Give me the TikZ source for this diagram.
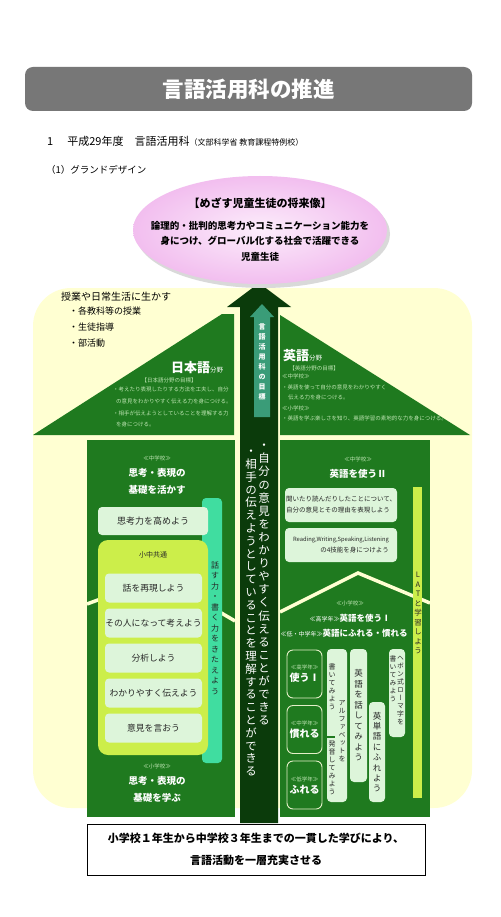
\documentclass[tikz,border=0pt]{standalone}
\usepackage{fontspec}
\setmainfont{Noto Sans CJK JP}
\newfontfamily\tatefont[RawFeature={+vert}]{Noto Sans CJK JP}
\usepackage{tikz}

\definecolor{titlegray}{HTML}{777777}
\definecolor{cream}{HTML}{FFFFD2}
\definecolor{shaft}{HTML}{0B3B0B}
\definecolor{roofgreen}{HTML}{1F7A1F}
\definecolor{panelgreen}{HTML}{1F7A1F}
\definecolor{mint}{HTML}{DDF5DA}
\definecolor{lime}{HTML}{CCEE4A}
\definecolor{aqua}{HTML}{40DDA0}
\definecolor{goalteal}{HTML}{3A9C78}
\definecolor{pinkedge}{HTML}{F2BEEF}
\definecolor{pinkmid}{HTML}{FCEDFB}
\definecolor{paletext}{HTML}{BFE6B4}
\definecolor{outline}{HTML}{E4EFC8}

\newcommand\fsz[2]{\fontsize{#1}{#2}\selectfont}
\makeatletter
\def\tate@loop#1{\ifx#1\relax\else\hbox to 1em{\hss#1\hss}\expandafter\tate@loop\fi}
\newcommand\tate[2][1.1em]{\vbox{\tatefont\baselineskip=#1\relax\lineskiplimit=-99pt\lineskip=0pt\tate@loop#2\relax}}
\makeatother

\begin{document}
\begin{tikzpicture}[x=1pt, y=-1pt,
	every node/.style={inner sep=1pt},
	mintbox/.style={fill=mint, rounded corners=4pt, inner sep=0pt, text=black!85},
	gradebox/.style={fill=panelgreen, draw=outline, line width=0.9pt, rounded corners=6pt, inner sep=0pt, minimum width=35pt, minimum height=48pt, align=center, text=white},
	smalltag/.style={text=paletext, font=\fsz{5.5}{7}},
	headline/.style={text=white, font=\bfseries\fsz{9.5}{17}, align=center},
	roofline/.style={draw=cream, line width=3.5pt},
	tatetext/.style={text=black!85, inner sep=0pt}]
	\fill[white] (0,0) rectangle (500,917);
	\useasboundingbox (0,0) rectangle (500,917);

	% title and headings
	\node[fill=titlegray, rounded corners=8pt, minimum width=447pt, minimum height=44pt] (titlebar) at (248.5,89){};
	\node[text=white, font=\bfseries\fsz{21.5}{24}] (title) at (titlebar){言語活用科の推進};
	\node[anchor=west, font=\fsz{11}{12}] (heading) at (46,141){1\hspace{14pt}平成29年度　言語活用科{\fsz{8}{9}（文部科学省 教育課程特例校）}};
	\node[anchor=west, font=\fsz{9.5}{11}] (design) at (45,170){（1）グランドデザイン};

	% background, arrow, goal
	\fill[cream, rounded corners=38pt] (33,288) rectangle (472,808);
	\fill[shaft] (240,823) -- (240,307) -- (227,307) -- (259,283) -- (291,307) -- (278,307) -- (278,823) -- cycle;
	\fill[black!15] (263,234) ellipse [x radius=127pt, y radius=54pt];
	\shade[inner color=pinkmid, outer color=pinkedge] (260,230) ellipse [x radius=127pt, y radius=54pt];
	\node[font=\bfseries\fsz{11}{13}] (goal) at (260,203){【めざす児童生徒の将来像】};
	\node[font=\bfseries\fsz{9.5}{15.5}, align=center] (goaltext) at (260,241){論理的・批判的思考力やコミュニケーション能力を\\身につけ、グローバル化する社会で活躍できる\\児童生徒};

	\node[anchor=west, font=\fsz{10}{12}] (life) at (60,297){授業や日常生活に生かす};
	\node[anchor=north west, font=\fsz{9}{16}, align=left] (lifelist) at (68,306){・各教科等の授業\\・生徒指導\\・部活動};

	% roofs
	\fill[roofgreen] (33,435) -- (222,314) -- (234,314) -- (234,435) -- cycle;
	\fill[roofgreen] (280,315) -- (470,435) -- (280,435) -- cycle;
	\node[text=white] (jpfield) at (197,368){{\bfseries\fsz{13}{15}日本語}{\fsz{6.5}{8}分野}};
	\node[smalltag] (jpgoal) at (169,380){【日本語分野の目標】};
	\node[anchor=north west, text=paletext, font=\fsz{5.5}{11.7}, align=left] (jpgoaltext) at (112,386){・考えたり表現したりする方法を工夫し、自分\\\hspace{3pt}の意見をわかりやすく伝える力を身につける。\\・相手が伝えようとしていることを理解する力\\\hspace{3pt}を身につける。};
	\node[anchor=west, text=white] (enfield) at (282,356){{\bfseries\fsz{13}{15}英語}{\fsz{6.5}{8}分野}};
	\node[smalltag] (engoal) at (314,368){【英語分野の目標】};
	\node[anchor=north west, text=paletext, font=\fsz{5.5}{10.5}, align=left] (engoaltext) at (281,373){≪中学校≫\\・英語を使って自分の意見をわかりやすく\\\hspace{6pt}伝える力を身につける。\\≪小学校≫\\・英語を学ぶ楽しさを知り、英語学習の素地的な力を身につける。};

	% goal arrow in the shaft
	\fill[goalteal] (254,417) -- (254,317) -- (250,317) -- (262,304) -- (274,317) -- (270,317) -- (270,417) -- cycle;
	\node[text=white, font=\bfseries\fsz{7}{8}, inner sep=0pt] (goallabel) at (262,362){\tate[10pt]{言語活用科の目標}};
	\node[text=white, font=\fsz{11.5}{13}, anchor=north, inner sep=0pt] (canexpress) at (264,444){\tate[13.1pt]{・自分の意見をわかりやすく伝えることができる}};
	\node[text=white, font=\fsz{11.5}{13}, anchor=north, inner sep=0pt] (canlisten) at (251,450){\tate[12.8pt]{・相手の伝えようとしていることを理解することができる}};

	% Japanese panel
	\fill[panelgreen] (87,440) rectangle (235,817);
	\draw[roofline] (87,604) -- (160,577) -- (235,621);
	\node[smalltag] (jpjunior) at (157,458){≪中学校≫};
	\node[headline] (jpjuniorhead) at (157,481){思考・表現の\\基礎を活かす};
	\node[fill=aqua, rounded corners=4pt, minimum width=20pt, minimum height=265pt, inner sep=0pt] (speakstrip) at (212,630.5){};
	\node[tatetext, font=\fsz{8}{9}] (speaklabel) at (215,628){\tate[10.5pt]{話す力・書く力をきたえよう}};
	\node[mintbox, minimum width=110pt, minimum height=28pt, font=\fsz{9}{11}] (think) at (153,521){思考力を高めよう};
	\node[fill=lime, rounded corners=10pt, minimum width=110pt, minimum height=215pt] (common) at (153,647.5){};
	\node[text=black!85, font=\fsz{7}{8}] (commonlabel) at (153,555){小中共通};
	\foreach \y/\txt [count=\i] in {588/話を再現しよう, 623/その人になって考えよう, 658/分析しよう, 693/わかりやすく伝えよう, 728/意見を言おう}
		\node[mintbox, minimum width=97pt, minimum height=29pt, font=\fsz{8.8}{10}] (step\i) at (153.5,\y){\txt};
	\node[smalltag] (jpelem) at (157,766){≪小学校≫};
	\node[headline] (jpelemhead) at (157,789.5){思考・表現の\\基礎を学ぶ};

	% English panel
	\fill[panelgreen] (280,440) rectangle (430,817);
	\draw[roofline] (280,612) -- (358,573) -- (430,603);
	\node[smalltag] (enjunior) at (358,459){≪中学校≫};
	\node[headline] (enjuniorhead) at (358,474){英語を使うⅡ};
	\node[mintbox, minimum width=112pt, minimum height=34pt, font=\fsz{6.5}{11}, align=left] (opinion) at (341,505){聞いたり読んだりしたことについて、\\自分の意見とその理由を表現しよう};
	\node[mintbox, minimum width=112pt, minimum height=34pt, font=\fsz{5.8}{11}, align=right] (fourskills) at (341,545){Reading,Writing,Speaking,Listening\\{\fsz{6.5}{11}の4技能を身につけよう}};
	\node[fill=lime, minimum width=9pt, minimum height=311pt, inner sep=0pt] (latbar) at (417.5,642.5){};
	\node[tatetext, font=\fsz{7.5}{9}] (latlabel) at (418,613){\tate[9.5pt]{LATと学習しよう}};
	\node[smalltag] (enelem) at (350,603){≪小学校≫};
	\node[text=white, font=\bfseries\fsz{8.5}{10}] (useone) at (350,618){{\mdseries\fsz{6}{8}≪高学年≫}英語を使うⅠ};
	\node[text=white, font=\bfseries\fsz{8.5}{10}] (touchall) at (344,633){{\mdseries\fsz{6}{8}≪低・中学年≫}英語にふれる・慣れる};
	\node[gradebox] (upper) at (304.5,674){{\color{paletext}\fsz{5.5}{12}≪高学年≫}\\{\bfseries\fsz{10}{12}使うⅠ}};
	\node[gradebox] (middle) at (304.5,729.5){{\color{paletext}\fsz{5.5}{12}≪中学年≫}\\{\bfseries\fsz{10}{12}慣れる}};
	\node[gradebox] (lower) at (304.5,785){{\color{paletext}\fsz{5.5}{12}≪低学年≫}\\{\bfseries\fsz{10}{12}ふれる}};
	\node[mintbox, minimum width=20pt, minimum height=153pt] (alphabet) at (337,725.5){};
	\draw[panelgreen, line width=1.5pt] (327,737) -- (335,737);
	\node[tatetext, font=\fsz{7}{8}] (writeabc) at (332,687){\tate[8pt]{書いてみよう}};
	\node[tatetext, font=\fsz{7}{8}] (abclabel) at (342,731){\tate[8pt]{アルファベットを}};
	\node[tatetext, font=\fsz{7}{8}] (sayabc) at (332,768){\tate[8pt]{発音してみよう}};
	\node[mintbox, minimum width=17pt, minimum height=133pt] (speakbox) at (358.5,715.5){};
	\node[tatetext, font=\fsz{8.5}{9}] (speaktext) at (358.5,715.5){\tate[10.5pt]{英語を話してみよう}};
	\node[mintbox, minimum width=16pt, minimum height=100pt] (wordbox) at (377,752){};
	\node[tatetext, font=\fsz{8.5}{9}] (wordtext) at (377,752){\tate[10.4pt]{英単語にふれよう}};
	\node[mintbox, minimum width=16pt, minimum height=88pt] (romajibox) at (397,693){};
	\node[tatetext, font=\fsz{6.8}{8}, anchor=north] (romajitext) at (400.5,656){\tate[8pt]{ヘボン式ローマ字を}};
	\node[tatetext, font=\fsz{6.8}{8}, anchor=north] (romajiwrite) at (393,656){\tate[8pt]{書いてみよう}};

	% summary
	\node[draw=black, fill=white, line width=0.8pt, minimum width=338pt, minimum height=51pt] (summary) at (256,849.5){};
	\node[font=\bfseries\fsz{11}{22}, align=center] (summarytext) at (summary){小学校１年生から中学校３年生までの一貫した学びにより、\\言語活動を一層充実させる};
\end{tikzpicture}
\end{document}
